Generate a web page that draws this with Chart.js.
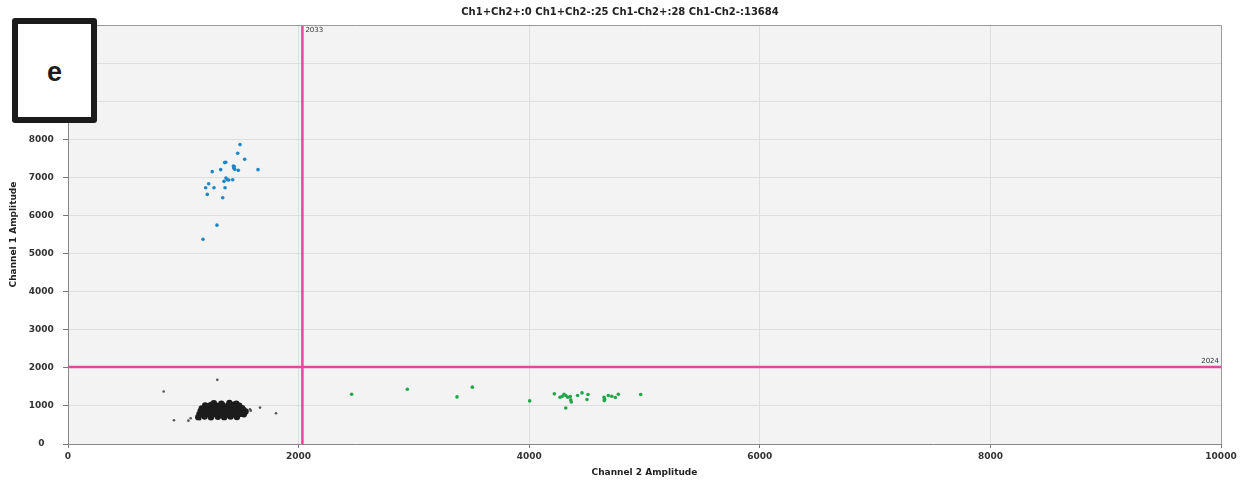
<!DOCTYPE html>
<html><head><meta charset="utf-8">
<script src="https://cdn.jsdelivr.net/npm/chart.js@4"></script>
<style>
html,body{margin:0;padding:0;background:#fff;}
#wrap{position:relative;width:1242px;height:482px;}
#panel{position:absolute;left:12px;top:18px;width:85px;height:105px;box-sizing:border-box;border:6px solid #1b1b1b;border-radius:3px;background:#fff;font:bold 27px "Liberation Sans",Arial,sans-serif;color:#1b1b1b;display:flex;align-items:center;justify-content:center;padding-top:4px;}
</style></head><body>
<div id="wrap"><canvas id="c" width="1242" height="482"></canvas><div id="panel">e</div></div>
<script>
const chartTitle = 'Ch1+Ch2+:0 Ch1+Ch2-:25 Ch1-Ch2+:28 Ch1-Ch2-:13684';
const xAxisTitle = 'Channel 2 Amplitude';
const yAxisTitle = 'Channel 1 Amplitude';
const panelLabel = 'e';
const xTicks = [0, 2000, 4000, 6000, 8000, 10000];
const yTicks = [0, 1000, 2000, 3000, 4000, 5000, 6000, 7000, 8000, 9000, 10000, 11000];
const ch2Threshold = 2033;
const ch1Threshold = 2024;

// Ch1+Ch2- droplets (blue)
const ch1PosPoints = [
  [1492,7860],[1472,7632],[1532,7474],[1359,7387],[1368,7395],[1434,7297],[1442,7282],
  [1437,7245],[1446,7211],[1324,7203],[1477,7184],[1648,7203],[1251,7150],[1370,6982],
  [1382,6939],[1394,6929],[1353,6895],[1428,6939],[1220,6834],[1194,6729],[1266,6729],
  [1362,6729],[1208,6553],[1342,6466],[1292,5745],[1171,5376]
];
// Ch1-Ch2+ droplets (green)
const ch2PosPoints = [
  [2460,1307],[2943,1439],[3374,1237],[3507,1492],[4004,1132],[4218,1316],
  [4267,1228],[4285,1246],[4302,1307],[4317,1272],[4334,1228],[4356,1246],
  [4360,1158],[4365,1105],[4317,947],[4420,1272],[4458,1342],[4510,1298],[4501,1167],
  [4649,1228],[4654,1176],[4651,1140],[4686,1272],[4716,1254],[4747,1219],[4773,1307],[4967,1298]
];
// Ch1-Ch2- droplets (dense black cluster)
const negCore = [
  [1130,705],[1185,720],[1240,700],[1300,715],[1355,705],[1410,720],[1465,710],
  [1140,785],[1175,770],[1210,790],[1245,775],[1280,785],[1315,770],[1350,790],[1385,775],[1420,785],[1455,770],[1490,790],[1525,780],
  [1150,860],[1185,845],[1220,865],[1255,850],[1290,860],[1325,845],[1360,865],[1395,850],[1430,860],[1465,845],[1500,865],[1540,855],
  [1160,935],[1195,950],[1230,930],[1265,945],[1300,935],[1335,950],[1370,930],[1405,945],[1440,935],[1475,950],[1510,940],
  [1190,1010],[1240,1025],[1290,1005],[1340,1020],[1390,1010],[1440,1030],[1485,1005],
  [1265,1070],[1330,1060],[1400,1075],[1460,1055],
  [1160,820],[1230,825],[1300,815],[1370,820],[1440,825],[1510,815],
  [1175,900],[1245,895],[1315,905],[1385,895],[1455,900],[1520,900]
];
const negOutliers = [
  [1295,1684],[830,1377],[919,623],[1044,613],[1064,676],[1145,650],
  [1578,913],[1665,955],[1804,808],[1585,876]
];

const toXY = a => a.map(p => ({x: p[0], y: p[1]}));
const FONT = '"DejaVu Sans", Verdana, sans-serif';

const decor = {
  id: 'decor',
  beforeDraw(chart) {
    const {ctx, chartArea: a} = chart;
    ctx.save();
    ctx.fillStyle = '#f3f3f3';
    ctx.fillRect(a.left, a.top, a.right - a.left, a.bottom - a.top);
    ctx.restore();
  },
  afterDraw(chart) {
    const {ctx, chartArea: a, scales} = chart;
    ctx.save();
    ctx.strokeStyle = '#9a9a9a';
    ctx.lineWidth = 1;
    ctx.beginPath();
    ctx.moveTo(a.left, a.top + 0.5); ctx.lineTo(a.right + 0.5, a.top + 0.5);
    ctx.lineTo(a.right + 0.5, a.bottom);
    ctx.stroke();
    ctx.fillStyle = '#222';
    ctx.font = 'bold 10px ' + FONT;
    ctx.textAlign = 'center'; ctx.textBaseline = 'middle';
    ctx.fillText(chartTitle, 620, 12);
    ctx.font = 'bold 9px ' + FONT;
    ctx.fillText(xAxisTitle, (a.left + a.right) / 2, 473);
    ctx.save();
    ctx.translate(14, (a.top + a.bottom) / 2);
    ctx.rotate(-Math.PI / 2);
    ctx.fillText(yAxisTitle, 0, 0);
    ctx.restore();
    ctx.font = '7px ' + FONT;
    ctx.fillStyle = '#333';
    ctx.textAlign = 'left'; ctx.textBaseline = 'top';
    ctx.fillText(String(ch2Threshold), scales.x.getPixelForValue(ch2Threshold) + 3, a.top + 2);
    ctx.textAlign = 'right'; ctx.textBaseline = 'bottom';
    ctx.fillText(String(ch1Threshold), a.right - 2, scales.y.getPixelForValue(ch1Threshold) - 2);
    ctx.restore();
  }
};

new Chart(document.getElementById('c'), {
  type: 'scatter',
  data: {
    datasets: [
      {data: toXY(negCore), backgroundColor: '#1c1c1c', borderWidth: 0, pointRadius: 3.2},
      {data: toXY(negOutliers), backgroundColor: '#555', borderWidth: 0, pointRadius: 1.3},
      {data: toXY(ch1PosPoints), backgroundColor: '#1f86c6', borderWidth: 0, pointRadius: 1.8},
      {data: toXY(ch2PosPoints), backgroundColor: '#22a64a', borderWidth: 0, pointRadius: 1.8},
      {data: [{x: ch2Threshold, y: yTicks[0]}, {x: ch2Threshold, y: yTicks[yTicks.length - 1]}],
       showLine: true, borderColor: '#e2489f', borderWidth: 2.5, pointRadius: 0},
      {data: [{x: xTicks[0], y: ch1Threshold}, {x: xTicks[xTicks.length - 1], y: ch1Threshold}],
       showLine: true, borderColor: '#e2489f', borderWidth: 2.5, pointRadius: 0}
    ]
  },
  options: {
    responsive: false,
    animation: false,
    layout: {padding: {top: 25, right: 21, left: 0, bottom: 0}},
    plugins: {legend: {display: false}, tooltip: {enabled: false}},
    scales: {
      x: {
        type: 'linear', min: xTicks[0], max: xTicks[xTicks.length - 1],
        afterBuildTicks: s => { s.ticks = xTicks.map(v => ({value: v})); },
        afterFit: s => { s.height = 38; },
        grid: {color: '#dedede', tickColor: '#777', tickLength: 4},
        border: {color: '#888'},
        ticks: {font: {family: FONT, size: 9, weight: 'bold'}, color: '#333', padding: 3, maxRotation: 0,
                callback: v => String(v)}
      },
      y: {
        type: 'linear', min: yTicks[0], max: yTicks[yTicks.length - 1],
        afterBuildTicks: s => { s.ticks = yTicks.map(v => ({value: v})); },
        afterFit: s => { s.width = 68; },
        grid: {color: '#dedede', tickColor: '#777', tickLength: 5},
        border: {color: '#888'},
        ticks: {font: {family: FONT, size: 9, weight: 'bold'}, color: '#333', padding: 6, crossAlign: 'center',
                callback: v => String(v)}
      }
    }
  },
  plugins: [decor]
});
</script>
</body></html>
